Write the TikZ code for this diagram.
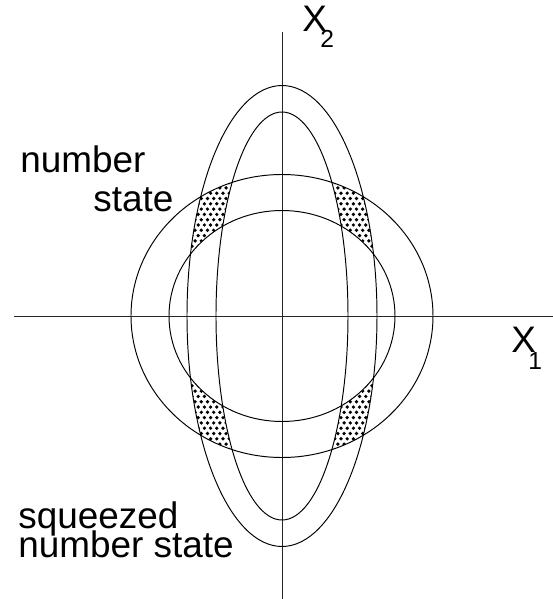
\documentclass[tikz,border=0pt]{standalone}
\usepackage{fontspec}
\setmainfont{Liberation Sans}
\usepackage{tikz}
\usetikzlibrary{positioning}

\newcommand{\bigfont}{\fontsize{21}{16.5}\selectfont\lineskiplimit=-50pt}
\newcommand{\subfont}{\fontsize{14}{14}\selectfont}

\begin{document}
\begin{tikzpicture}[x=0.02cm, y=0.02cm,
    curve/.style={line width=0.55pt},
    axis/.style={line width=0.5pt, black!85},
    txt/.style={inner sep=0pt, anchor=base west, font=\bigfont, align=left}]
  \useasboundingbox (-282,-283) rectangle (271,316);

  % dotted overlap of the two rings
  \begin{scope}[even odd rule]
    \clip (0,0) ellipse [x radius=151, y radius=141.5]
          (0,0) ellipse [x radius=113, y radius=105.5];
    \clip (0,0) ellipse [x radius=95, y radius=230.5]
          (0,0) ellipse [x radius=66, y radius=204];
    \foreach \i in {0,...,14}
      \foreach \j in {0,...,21} {
        \pgfmathsetmacro{\dx}{28+6.2*\i+3.1*mod(\j,2)}
        \pgfmathsetmacro{\dy}{38+5.3*\j}
        \foreach \sx/\sy in {1/1,-1/1,1/-1,-1/-1}
          \fill (\sx*\dx,\sy*\dy) circle [radius=1.85];
      }
  \end{scope}

  % axes
  \coordinate (xl) at (-268,0);
  \coordinate (xr) at (271,0);
  \coordinate (yt) at (0,284);
  \coordinate (yb) at (0,-283);
  \draw[axis] (xl) -- (xr);
  \draw[axis] (yb) -- (yt);

  % number state and squeezed number state
  \draw[curve] (0,0) ellipse [x radius=151, y radius=141.5];
  \draw[curve] (0,0) ellipse [x radius=113, y radius=105.5];
  \draw[curve] (0,0) ellipse [x radius=95, y radius=230.5];
  \draw[curve] (0,0) ellipse [x radius=66, y radius=204];

  % labels
  \node[txt] (x2) at (20,284) {X\kern-0.13cm\raisebox{-0.31cm}{\subfont 2}};
  \node[txt] (x1) at (229,-36) {X\kern-0.15cm\raisebox{-0.36cm}{\subfont 1}};
  \node[txt] (num) at (-262,144) {number};
  \node[txt] (st) at (-189,105) {state};
  \node[txt] (sq) at (-264,-241) {squeezed\\number state};
\end{tikzpicture}
\end{document}
